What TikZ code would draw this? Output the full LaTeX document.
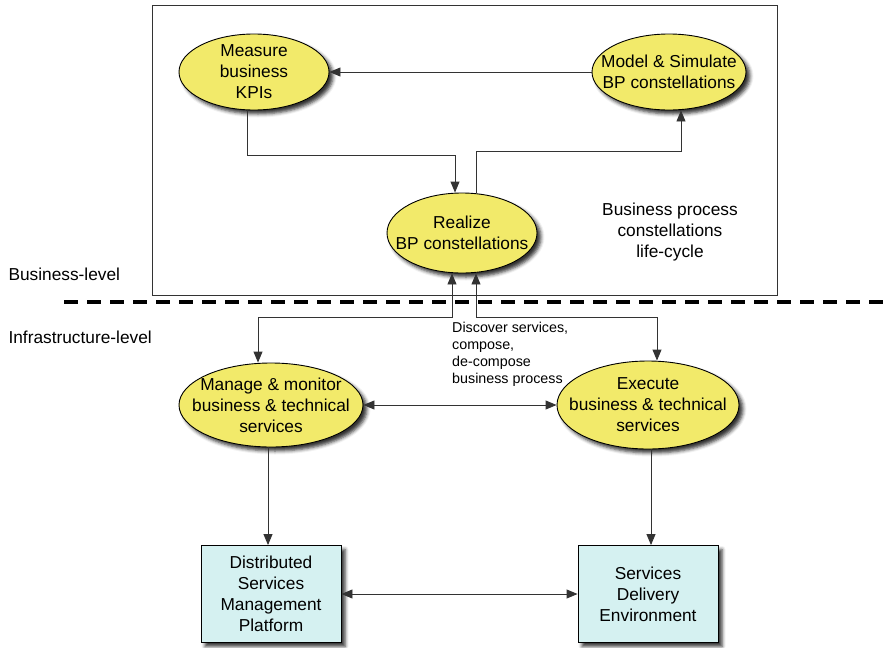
\documentclass[tikz,border=0pt]{standalone}
\usepackage{fontspec}
\setmainfont{Liberation Sans}
\usetikzlibrary{arrows.meta,shapes.geometric,shadows,shadows.blur}
\definecolor{procfill}{HTML}{F2EA6A}
\definecolor{platfill}{HTML}{D5F1F1}
\definecolor{linecol}{HTML}{333333}
\begin{document}
\begin{tikzpicture}[x=1pt,y=-1pt,
  every node/.style={font=\fontsize{17.3}{21}\selectfont, text=black},
  softshadow/.style={blur shadow={shadow xshift=4pt, shadow yshift=-4pt, shadow blur radius=3.5pt, shadow opacity=80}},
  % ellipse whose size is fixed by the two arguments, not by its text
  proc/.style 2 args={ellipse, draw=black, line width=0.9pt, fill=procfill,
    inner xsep=-45pt, inner ysep=-22pt, minimum width=#1, minimum height=#2,
    align=center, softshadow},
  plat/.style={rectangle, draw=black, line width=0.9pt, fill=platfill, inner sep=0pt,
    minimum width=140pt, minimum height=97pt, align=center, softshadow},
  conn/.style={draw=linecol, line width=0.9pt},
  tip/.style={-{Triangle[length=11pt,width=9pt]}},
  tips/.style={{Triangle[length=11pt,width=9pt]}-{Triangle[length=11pt,width=9pt]}},
  lbl/.style={align=center}
]
\useasboundingbox (0,0) rectangle (884,648);

% business-level frame
\draw[draw=linecol, line width=0.9pt] (152,5) rectangle (777,295);

% process ellipses
\node[proc={150pt}{76pt}] (measure) at (254,72) {Measure\\business\\KPIs};
\node[proc={154pt}{76pt}] (model) at (669,72) {Model \& Simulate\\BP constellations};
\node[proc={150pt}{80pt}] (realize) at (462,233) {Realize\\BP constellations};
\node[proc={184pt}{84pt}] (manage) at (271,405) {Manage \& monitor\\business \& technical\\services};
\node[proc={182pt}{88pt}] (execute) at (648,405) {Execute\\business \& technical\\services};

% platform boxes
\node[plat] (dsmp) at (271,594) {Distributed\\Services\\Management\\Platform};
\node[plat] (sde) at (648,594) {Services\\Delivery\\Environment};

% texts
\node[lbl] (cycle) at (670,232) {Business process\\constellations\\life-cycle};
\node[anchor=west] (biz) at (5,274) {Business-level};
\node[anchor=west] (infra) at (5,337) {Infrastructure-level};
\node[anchor=north west, align=left, font=\fontsize{14.3}{17}\selectfont, inner sep=0pt] (discover) at (452,322)
  {Discover services,\\compose,\\de-compose\\business process};

% level separator
\draw[line width=3.2pt, dash pattern=on 14pt off 9pt] (64,302) coordinate (sepL) -- (884,302) coordinate (sepR);

% life-cycle connectors
\draw[conn, tip] (model) -- (measure);
\draw[conn, tip] ([xshift=-7pt]measure.south) -- ++(0,45) -| ([xshift=-7pt]realize.north);
\draw[conn, tip] ([xshift=14pt]realize.north) -- ++(0,-41) -| ([xshift=12pt]model.south);

% realization links to the infrastructure
\draw[conn, tips] ([xshift=-10pt]realize.south) -- ++(0,44) -| ([xshift=-13pt]manage.north);
\draw[conn, tips] ([xshift=14pt]realize.south) -- ++(0,44) -| ([xshift=9pt]execute.north);
\draw[conn, tips] (manage) -- (execute);

% links to the platforms
\draw[conn, tip] ([xshift=-3pt]manage.south) -- ([xshift=-3pt]dsmp.north);
\draw[conn, tip] ([xshift=3pt]execute.south) -- ([xshift=3pt]sde.north);
\draw[conn, tips] (dsmp) -- (sde);
\end{tikzpicture}
\end{document}
